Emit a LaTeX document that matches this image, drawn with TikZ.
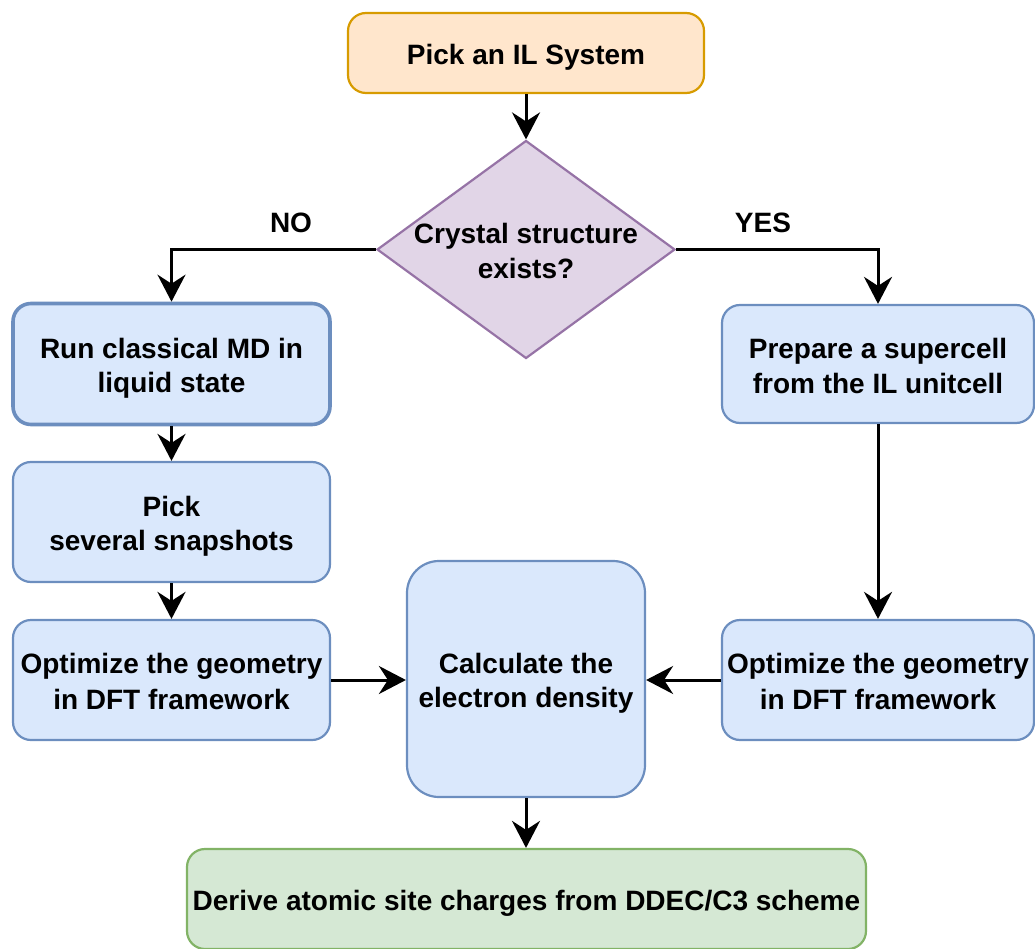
\documentclass[tikz,border=0pt]{standalone}
\usepackage{fontspec}
\setmainfont{Liberation Sans}
\usetikzlibrary{arrows.meta,shapes.geometric}
\definecolor{orfill}{HTML}{FFE6CC}
\definecolor{ordraw}{HTML}{D79B00}
\definecolor{blfill}{HTML}{DAE8FC}
\definecolor{bldraw}{HTML}{6C8EBF}
\definecolor{pufill}{HTML}{E1D5E7}
\definecolor{pudraw}{HTML}{9673A6}
\definecolor{grfill}{HTML}{D5E8D4}
\definecolor{grdraw}{HTML}{82B366}
\newcommand{\ls}{\rule[-5.1pt]{0pt}{33.6pt}}
\tikzset{
  txt/.style={font=\fontsize{28}{34}\selectfont\bfseries, align=center, text=black, inner sep=0pt},
  boxbase/.style={txt, rounded corners=18pt, line width=2.2pt},
  bluebox/.style={boxbase, fill=blfill, draw=bldraw, minimum width=317pt, minimum height=120pt},
  conn/.style={line width=3pt, draw=black, -{Stealth[length=27pt,width=28pt,inset=9pt]}},
}
\begin{document}
\begin{tikzpicture}[x=1pt,y=-1pt]
\useasboundingbox (0,0) rectangle (1035,949);
\node[boxbase, fill=orfill, draw=ordraw, minimum width=356pt, minimum height=80pt] (pick) at (526,53) {\ls Pick an IL System\ls};
\node[diamond, fill=pufill, draw=pudraw, line width=2.2pt, minimum width=298pt, minimum height=218pt, inner sep=0pt] (dec) at (526,249.5) {};
\node[txt] (dectext) at (526,249) {\ls Crystal structure\\exists?\ls};
\node[bluebox, line width=3.6pt, minimum height=121pt] (run) at (171.5,364) {\ls Run classical MD in\\liquid state\ls};
\node[bluebox] (snap) at (171.5,522) {\ls Pick\\several snapshots\ls};
\node[bluebox] (optl) at (171.5,680) {\ls Optimize the geometry\\in DFT framework\ls};
\node[bluebox, minimum width=312pt, minimum height=118pt] (prep) at (878,364) {\ls Prepare a supercell\\from the IL unitcell\ls};
\node[bluebox, minimum width=312pt] (optr) at (878,680) {\ls Optimize the geometry\\in DFT framework\ls};
\node[bluebox, minimum width=238pt, minimum height=236pt, rounded corners=32pt] (calc) at (526,679) {\ls Calculate the\\electron density\ls};
\node[boxbase, fill=grfill, draw=grdraw, minimum width=679pt, minimum height=100pt] (der) at (526.5,899) {\ls Derive atomic site charges from DDEC/C3 scheme\ls};
\node[txt] (no) at (291,221) {\ls NO\ls};
\node[txt] (yes) at (763,221) {\ls YES\ls};
\draw[conn] (pick.south) -- (pick.south |- dec.north);
\draw[conn] (dec.west) -| (run.north);
\draw[conn] (dec.east) -| (prep.north);
\draw[conn] (run.south) -- (snap.north);
\draw[conn] (snap.south) -- (optl.north);
\draw[conn] (prep.south) -- (optr.north);
\draw[conn] (optl.east) -- (optl.east -| calc.west);
\draw[conn] (optr.west) -- (optr.west -| calc.east);
\draw[conn] (calc.south) -- (calc.south |- der.north);
\end{tikzpicture}
\end{document}
